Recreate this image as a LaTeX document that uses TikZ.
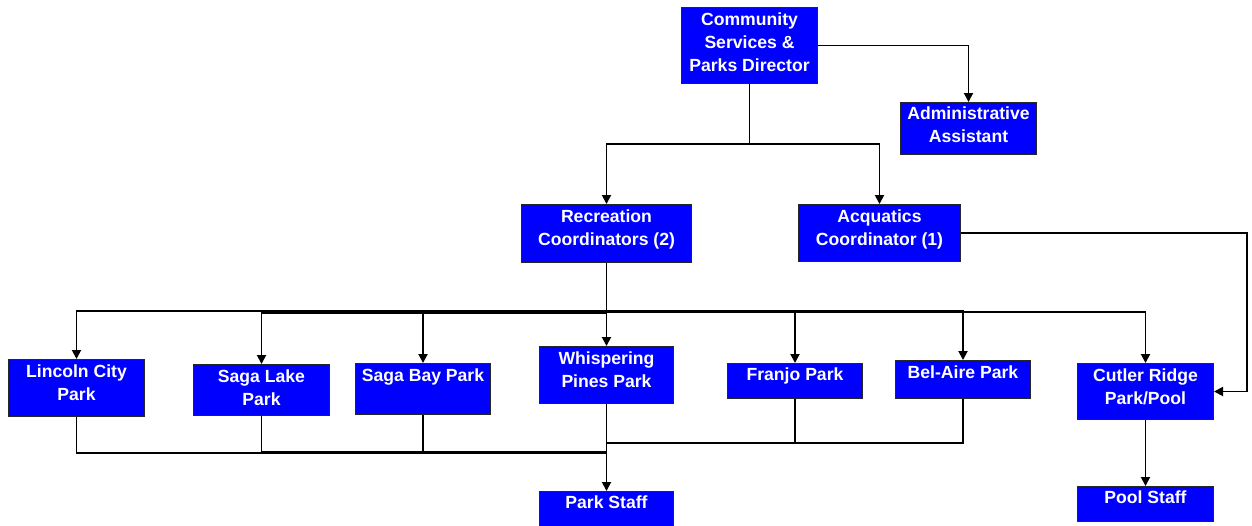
\documentclass[tikz,border=0pt]{standalone}
\usepackage{fontspec}
\setmainfont{Liberation Sans}
\usetikzlibrary{arrows.meta}
\definecolor{boxblue}{RGB}{0,0,255}
\begin{document}
\begin{tikzpicture}[x=1pt,y=-1pt,
  box/.style={draw=black!85, line width=1pt, fill=boxblue, inner sep=0pt, anchor=north west},
  txt/.style={text=white, font=\bfseries\fontsize{17.6}{23}\selectfont, align=center, inner sep=0pt, anchor=north},
  conn/.style={draw=black, line width=1.9pt},
  arr/.style={conn, -{Triangle[length=9pt,width=9pt]}}]
\useasboundingbox[fill=white] (0,0) rectangle (1252,525);
% boxes
\node[box, minimum width=136, minimum height=76] (dir) at (681,7) {};
\node[box, minimum width=136, minimum height=52] (adm) at (900,102) {};
\node[box, minimum width=170, minimum height=58] (rec) at (521,204) {};
\node[box, minimum width=162, minimum height=57] (aqu) at (798,204) {};
\node[box, minimum width=136, minimum height=57] (lin) at (8,359) {};
\node[box, minimum width=136, minimum height=51] (sl) at (193,364) {};
\node[box, minimum width=135, minimum height=51] (sb) at (355,363) {};
\node[box, minimum width=134, minimum height=57] (wp) at (539,346) {};
\node[box, minimum width=135, minimum height=35] (fr) at (727,363) {};
\node[box, minimum width=135, minimum height=38] (ba) at (895,360) {};
\node[box, minimum width=136, minimum height=56] (cut) at (1077,363) {};
\node[box, minimum width=134, minimum height=45] (ps) at (539,491) {};
\node[box, minimum width=136, minimum height=35] (pl) at (1077,486) {};
% texts
\node[txt] (dirt) at ([yshift=-6pt]dir.north) {Community\\Services \&\\Parks Director};
\node[txt] (admt) at ([yshift=-5pt]adm.north) {Administrative\\Assistant};
\node[txt] (rect) at ([yshift=-6pt]rec.north) {Recreation\\Coordinators (2)};
\node[txt] (aqut) at ([yshift=-6pt]aqu.north) {Acquatics\\Coordinator (1)};
\node[txt] (lint) at ([yshift=-6pt]lin.north) {Lincoln City\\Park};
\node[txt] (slt) at ([yshift=-6pt]sl.north) {Saga Lake\\Park};
\node[txt] (sbt) at ([yshift=-6pt]sb.north) {Saga Bay Park};
\node[txt] (wpt) at ([yshift=-6pt]wp.north) {Whispering\\Pines Park};
\node[txt] (frt) at ([yshift=-5pt]fr.north) {Franjo Park};
\node[txt] (bat) at ([yshift=-6pt]ba.north) {Bel-Aire Park};
\node[txt] (cutt) at ([yshift=-6pt]cut.north) {Cutler Ridge\\Park/Pool};
\node[txt] (pst) at ([yshift=-5pt]ps.north) {Park Staff};
\node[txt] (plt) at ([yshift=-5pt]pl.north) {Pool Staff};
% top connectors
\draw[arr] (dir.south) -- ++(0,60) -| (rec.north);
\draw[arr] (dir.south) -- ++(0,60) -| (aqu.north);
\draw[arr] (dir.east) -| (adm.north);
\draw[arr] (aqu.east) -- ++(286,0) |- (cut.east);
% recreation bus
\draw[arr] (rec.south) -- (wp.north);
\draw[arr] (rec.south) ++(0,48) -| (lin.north);
\draw[arr] (rec.south) ++(0,50) -| (sl.north);
\draw[arr] (rec.south) ++(0,50) -| (sb.north);
\draw[arr] (rec.south) ++(0,49) -| (fr.north);
\draw[arr] (rec.south) ++(0,48) -| (ba.north);
\draw[arr] (rec.south) ++(0,49) -| (cut.north);
% bottom bus
\coordinate (bus1) at (606,453);
\coordinate (bus2) at (606,443);
\draw[conn] (lin.south) |- (bus1);
\draw[conn] (sl.south) |- ([yshift=1pt]bus1);
\draw[conn] (sb.south) |- ([yshift=1pt]bus1);
\draw[conn] (fr.south) |- (bus2);
\draw[conn] (ba.south) |- (bus2);
\draw[arr] (wp.south) -- (ps.north);
\draw[arr] (cut.south) -- (pl.north);
\end{tikzpicture}
\end{document}
